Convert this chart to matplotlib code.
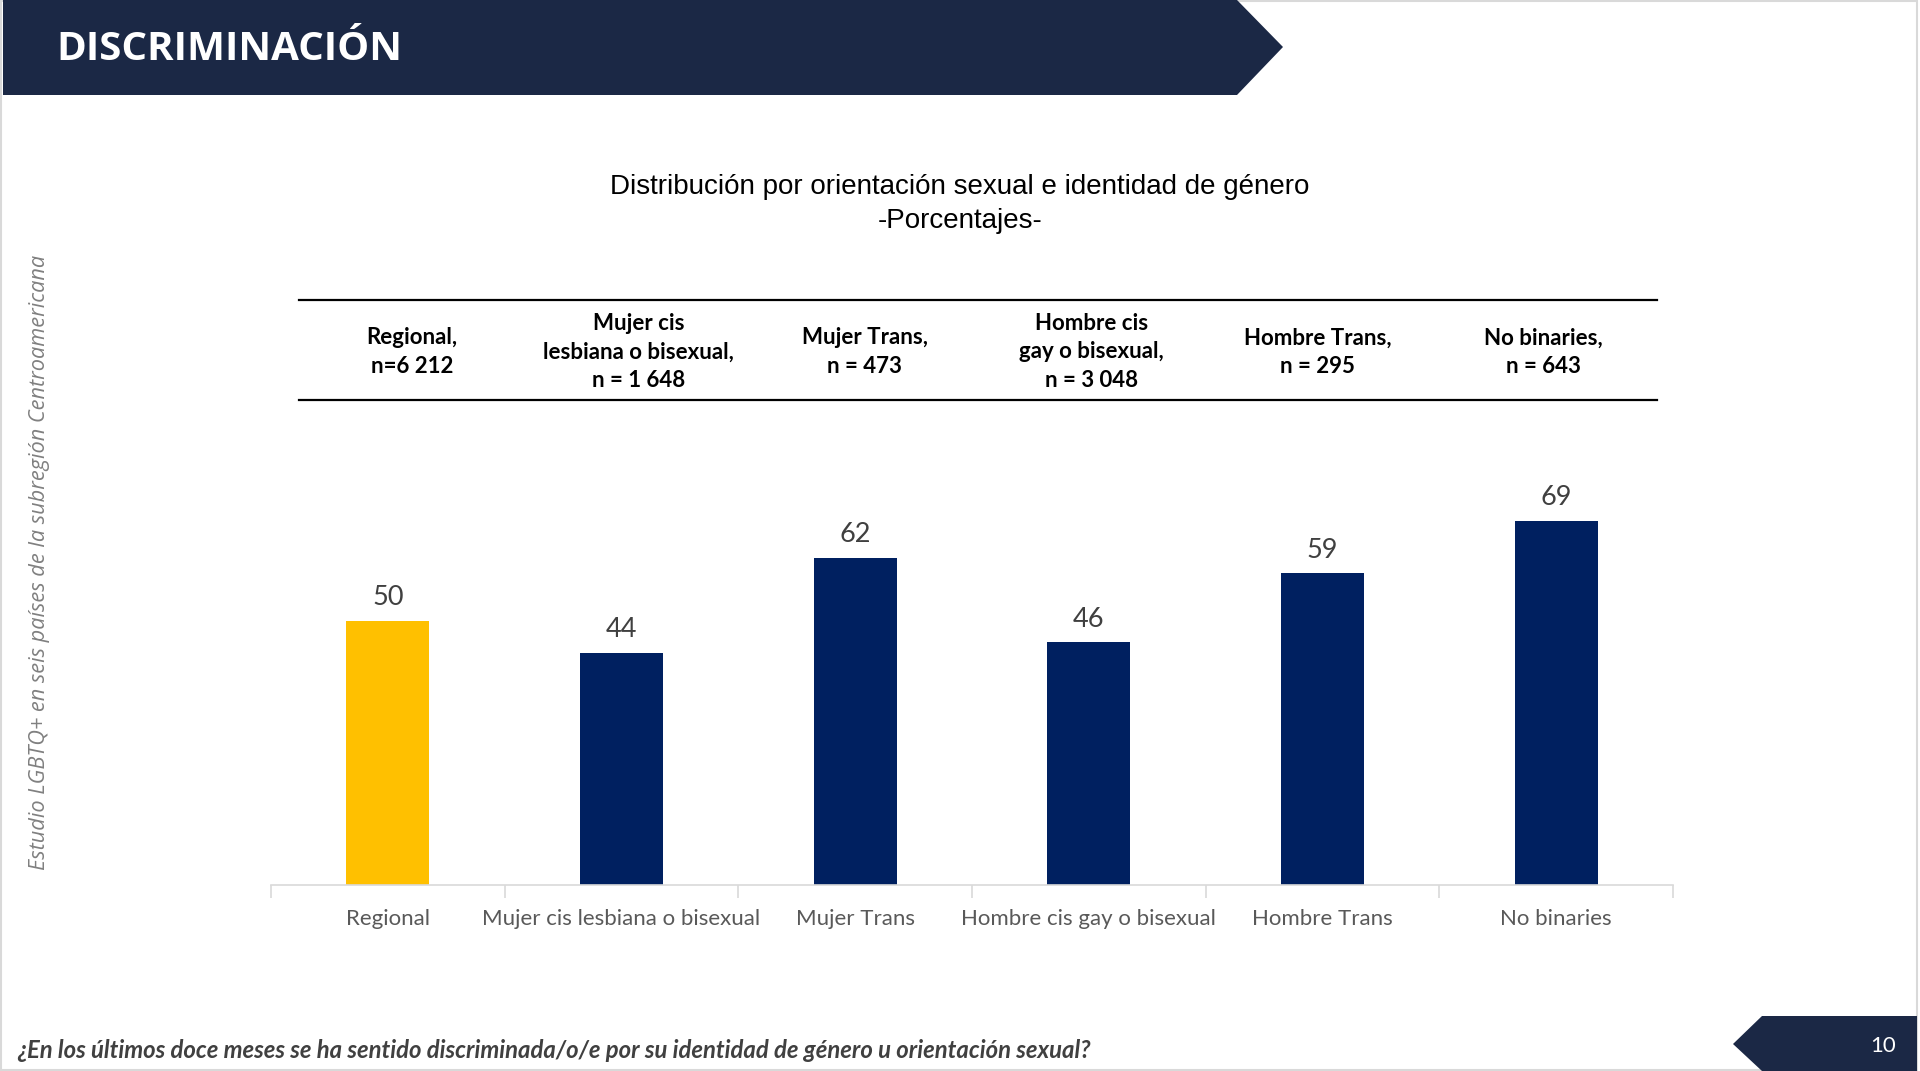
import matplotlib.pyplot as plt
from matplotlib.patches import Polygon, Rectangle
import numpy as np

# data
categories = ['Regional', 'Mujer cis lesbiana o bisexual', 'Mujer Trans',
              'Hombre cis gay o bisexual', 'Hombre Trans', 'No binaries']
values = [50, 44, 62, 46, 59, 69]
header_labels = ['Regional,\nn=6 212',
                 'Mujer cis\nlesbiana o bisexual,\nn = 1 648',
                 'Mujer Trans,\nn = 473',
                 'Hombre cis\ngay o bisexual,\nn = 3 048',
                 'Hombre Trans,\nn = 295',
                 'No binaries,\nn = 643']
bar_colors = ['#FFC000', '#002060', '#002060', '#002060', '#002060', '#002060']

page_title = 'DISCRIMINACIÓN'
chart_title = 'Distribución por orientación sexual e identidad de género\n-Porcentajes-'
side_note = 'Estudio LGBTQ+ en seis países de la subregión Centroamericana'
question = '¿En los últimos doce meses se ha sentido discriminada/o/e por su identidad de género u orientación sexual?'
page_num = '10'

W, H = 1920, 1071
navy = '#1B2845'
plt.rcParams['font.family'] = ['Lato', 'DejaVu Sans']

fig = plt.figure(figsize=(W / 100, H / 100), dpi=100)
fig.patch.set_facecolor('white')

# overlay in pixel coords for the slide decoration
deco = fig.add_axes([0, 0, 1, 1])
deco.set_xlim(0, W)
deco.set_ylim(H, 0)
deco.axis('off')

deco.add_patch(Rectangle((1, 1), W - 4, H - 2, fill=False, edgecolor='#D9D9D9', lw=1.5))
deco.add_patch(Polygon([(3, 0), (1237, 0), (1283, 47), (1237, 95), (3, 95)],
                       closed=True, facecolor=navy, edgecolor='none'))
deco.text(56, 50, page_title, color='white', fontsize=29, fontweight='bold',
          ha='left', va='center', family=['Open Sans', 'DejaVu Sans'])

deco.text(960, 204, chart_title, ha='center', va='center', fontsize=20,
          color='black', family=['Liberation Sans', 'DejaVu Sans'], linespacing=1.45)

# table header
tx0, tx1 = 299, 1657
deco.plot([tx0, tx1], [300, 300], color='black', lw=1.6)
deco.plot([tx0, tx1], [400, 400], color='black', lw=1.6)
col_w = (tx1 - tx0) / len(header_labels)
for i, lab in enumerate(header_labels):
    deco.text(tx0 + col_w * (i + 0.5), 352, lab, ha='center', va='center',
              fontsize=16, fontweight='bold', color='black', linespacing=1.42)

deco.text(40, 562, side_note, rotation=90, ha='center', va='center', fontsize=15.7,
          style='italic', color='#808080', family=['Open Sans', 'DejaVu Sans'])

deco.text(17, 1050, question, ha='left', va='center', fontsize=17.2,
          fontweight='bold', style='italic', color='#404040')

deco.add_patch(Polygon([(1762, 1016), (1917, 1016), (1917, H), (1762, H), (1733, 1044)],
                       closed=True, facecolor=navy, edgecolor='none'))
deco.text(1883, 1046, page_num, color='white', fontsize=16, ha='center', va='center')

# bar chart
ymax = 80
px_per_unit = 5.28
ax_bottom = 885
ax_top = ax_bottom - ymax * px_per_unit
ax = fig.add_axes([271 / W, 1 - ax_bottom / H, (1673 - 271) / W, (ax_bottom - ax_top) / H])
ax.patch.set_alpha(0)
x = np.arange(len(categories))
bars = ax.bar(x, values, width=0.356, color=bar_colors)
ax.set_xlim(-0.5, len(categories) - 0.5)
ax.set_ylim(0, ymax)
for b, v in zip(bars, values):
    ax.annotate(str(v), (b.get_x() + b.get_width() / 2, v), xytext=(0, 23),
                textcoords='offset pixels', ha='center', va='center',
                fontsize=19.5, color='#404040')

for s in ['top', 'right', 'left']:
    ax.spines[s].set_visible(False)
ax.spines['bottom'].set_color('#D9D9D9')
ax.spines['bottom'].set_linewidth(1.2)
ax.set_yticks([])
ax.set_xticks(x)
ax.set_xticklabels(categories, fontsize=16, color='#595959')
ax.set_xticks(np.arange(-0.5, len(categories)), minor=True)
ax.tick_params(axis='x', which='major', length=0, pad=17)
ax.tick_params(axis='x', which='minor', length=9, color='#D9D9D9', width=1.2)

fig.savefig('out.png', dpi=100)
